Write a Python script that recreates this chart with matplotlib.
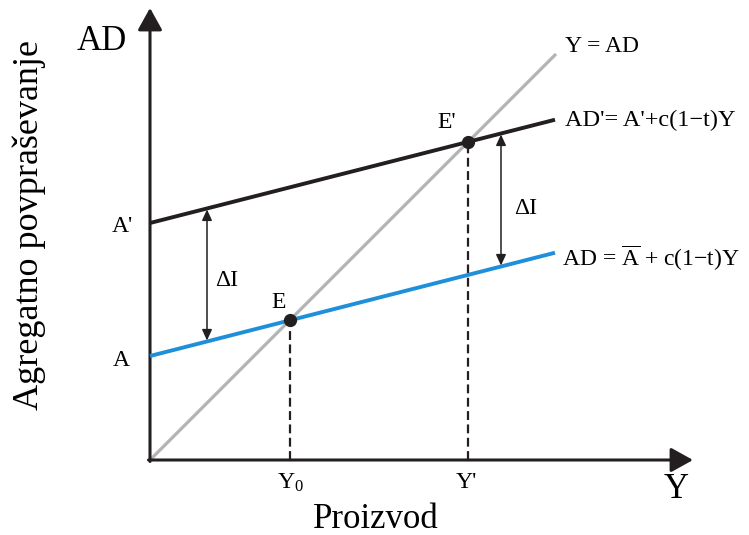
import matplotlib
matplotlib.use("Agg")
import matplotlib.pyplot as plt
import numpy as np

plt.rcParams['font.family'] = ['Liberation Serif', 'DejaVu Serif']
plt.rcParams['mathtext.fontset'] = 'custom'
plt.rcParams['mathtext.rm'] = 'Liberation Serif'
plt.rcParams['mathtext.it'] = 'Liberation Serif:italic'

# ---- data (model units) ----
x_line = [0, 405]                 # range of the AD lines
x_45 = [0, 406]                   # Y = AD line
a_low = 104                       # autonomous spending A
a_high = 237                      # autonomous spending A'
slope = 0.255                     # c(1 - t)
delta_i_x = [57, 351]             # where the ΔI arrows are drawn
axis_x_end = 543
axis_y_end = 452

# equilibria
y0 = a_low / (1 - slope)
y1 = a_high / (1 - slope)

fig = plt.figure(figsize=(7.49, 5.35), dpi=100)
ax = fig.add_axes([0, 0, 1, 1])
ax.set_xlim(-150, 599)
ax.set_ylim(-75, 460)
ax.axis('off')

dark = '#231f20'
blue = '#1f8fdb'
gray = '#b3b3b3'

# axes with arrows
ax.annotate('', xy=(axis_x_end, 0), xytext=(-1.5, 0),
            arrowprops=dict(arrowstyle='-|>,head_length=0.9,head_width=0.5',
                            lw=2.2, color=dark, mutation_scale=15,
                            shrinkA=0, shrinkB=0))
ax.annotate('', xy=(0, axis_y_end), xytext=(0, -1.5),
            arrowprops=dict(arrowstyle='-|>,head_length=0.9,head_width=0.5',
                            lw=2.2, color=dark, mutation_scale=15,
                            shrinkA=0, shrinkB=0))

# lines
xs = np.array(x_line, dtype=float)
ax.plot(x_45, x_45, color=gray, lw=2.3, solid_capstyle='butt', zorder=2)
ax.plot(xs, a_high + slope * xs, color=dark, lw=2.8, solid_capstyle='butt', zorder=3)
ax.plot(xs, a_low + slope * xs, color=blue, lw=2.8, solid_capstyle='butt', zorder=3)

# dashed drops
ax.plot([y0, y0], [0, y0], color=dark, lw=1.6, ls=(0, (4, 2)), zorder=2)
ax.plot([y1, y1], [0, y1], color=dark, lw=1.6, ls=(0, (4, 2)), zorder=2)

# equilibrium points
ax.plot([y0, y1], [y0, y1], 'o', color=dark, ms=8.5, zorder=5)

# ΔI arrows
for dx in delta_i_x:
    ax.annotate('', xy=(dx, a_high + slope * dx - 1), xytext=(dx, a_low + slope * dx + 1),
                arrowprops=dict(arrowstyle='<|-|>,head_length=0.65,head_width=0.3',
                                lw=1.1, color=dark, mutation_scale=10,
                                shrinkA=0, shrinkB=0), zorder=4)

fs_small = 17
ax.text(delta_i_x[0] + 8, 180, 'ΔI', fontsize=fs_small, ha='left', va='center')
ax.text(delta_i_x[1] + 13, 252, 'ΔI', fontsize=fs_small, ha='left', va='center')

ax.text(y0 - 11, 158, 'E', fontsize=fs_small, ha='center', va='center')
ax.text(y1 - 21, 338, "E'", fontsize=fs_small, ha='center', va='center')

ax.text(-28, 233, "A'", fontsize=fs_small, ha='center', va='center')
ax.text(-29, 100, "A", fontsize=fs_small, ha='center', va='center')

ax.text(y0 + 1, -23, r"Y$_0$", fontsize=fs_small, ha='center', va='center')
ax.text(y1 - 2, -23, "Y'", fontsize=fs_small, ha='center', va='center')

# right labels
ax.text(415, 413, 'Y = AD', fontsize=fs_small, ha='left', va='center')
ax.text(415, 340, "AD'= A'+c(1\u2212t)Y", fontsize=17.5, ha='left', va='center')
ax.text(412, 202, "AD = $\\mathrm{\\overline{A}}$ + c(1\u2212t)Y",
        fontsize=fs_small, ha='left', va='center')

# axis titles
ax.text(-48, 418, 'AD', fontsize=25, ha='center', va='center')
ax.text(526, -30, 'Y', fontsize=25, ha='center', va='center')
ax.text(226, -60, 'Proizvod', fontsize=25, ha='center', va='center')
ax.text(-121, 235, 'Agregatno povpraševanje', fontsize=26, ha='center', va='center',
        rotation=90)

fig.savefig('out.png', dpi=100)
